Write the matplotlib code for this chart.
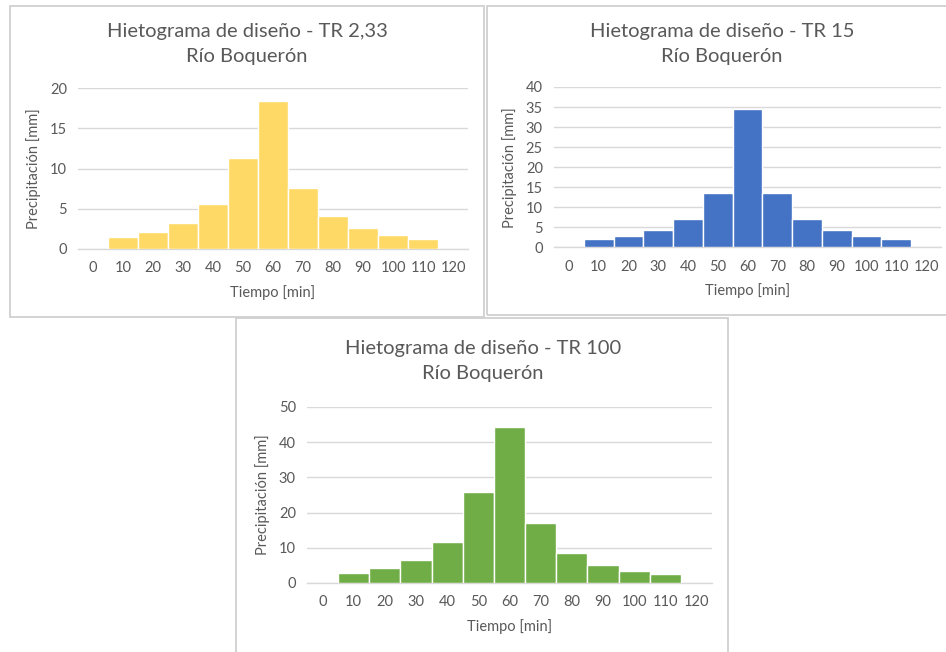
import numpy as np
import matplotlib
matplotlib.use("Agg")
import matplotlib.pyplot as plt
from matplotlib.patches import Rectangle

plt.rcParams['font.family'] = ['Lato', 'DejaVu Sans']

W, H = 946, 652

# tiempo en minutos (categorias del eje x)
tiempo = [0, 10, 20, 30, 40, 50, 60, 70, 80, 90, 100, 110, 120]

# precipitacion [mm] por intervalo, una serie por periodo de retorno
p_tr233 = [0, 1.53, 2.15, 3.27, 5.55, 11.35, 18.34, 7.58, 4.14, 2.61, 1.78, 1.28, 0]
p_tr15 = [0, 2.0, 2.83, 4.32, 6.98, 13.55, 34.6, 13.55, 6.98, 4.32, 2.83, 2.0, 0]
p_tr100 = [0, 2.84, 4.26, 6.53, 11.65, 25.95, 44.2, 16.95, 8.52, 5.11, 3.31, 2.46, 0]

gris = '#595959'
grid = '#D9D9D9'

fig = plt.figure(figsize=(W / 100, H / 100), dpi=100)
fig.patch.set_facecolor('white')


def px_box(x0, y0, x1, y1):
    # pixel box (top-left origin) -> figure fraction
    return [x0 / W, 1 - y1 / H, (x1 - x0) / W, (y1 - y0) / H]


def panel(x0, y0, x1, y1):
    fig.patches.append(Rectangle((x0 / W, 1 - y1 / H), (x1 - x0) / W, (y1 - y0) / H,
                                 transform=fig.transFigure, facecolor='none',
                                 edgecolor='#D0D0D0', linewidth=1.3, zorder=-5))


def hietograma(box, valores, color, ymax, paso, titulo, cx, ty):
    ax = fig.add_axes(px_box(*box))
    ax.set_facecolor('none')
    x = np.arange(len(tiempo))
    ax.bar(x, valores, width=1.0, color=color, edgecolor='white', linewidth=1.0, zorder=3)
    ax.set_xlim(-0.5, len(tiempo) - 0.5)
    ax.set_ylim(0, ymax)
    ax.set_yticks(np.arange(0, ymax + 0.1, paso))
    ax.set_xticks(x)
    ax.set_xticklabels([str(t) for t in tiempo])
    ax.tick_params(length=0, colors=gris, labelsize=10.5)
    ax.tick_params(axis='x', pad=9)
    ax.tick_params(axis='y', pad=8)
    ax.grid(axis='y', color=grid, linewidth=1.0, zorder=0)
    for s in ['top', 'right', 'left']:
        ax.spines[s].set_visible(False)
    ax.spines['bottom'].set_color(grid)
    ax.spines['bottom'].set_linewidth(1.0)
    ax.set_xlabel('Tiempo [min]', color=gris, fontsize=10.5, labelpad=7)
    ax.set_ylabel('Precipitación [mm]', color=gris, fontsize=10.5, labelpad=6)
    fig.text(cx / W, 1 - ty / H, titulo + '\nRío Boquerón', ha='center', va='center',
             color=gris, fontsize=14.5, linespacing=1.55)
    return ax


panel(10, 6, 484, 317)
panel(487, 6, 960, 315)
panel(236, 318, 728, 670)

hietograma((78, 88, 468, 249), p_tr233, '#FFD966', 20, 5,
           'Hietograma de diseño - TR 2,33', 247, 44)
hietograma((554, 87, 941, 247.3), p_tr15, '#4472C4', 40, 5,
           'Hietograma de diseño - TR 15', 722, 44)
hietograma((307, 407, 712, 583), p_tr100, '#70AD47', 50, 10,
           'Hietograma de diseño - TR 100', 483, 361)

fig.savefig('out.png', dpi=100)
